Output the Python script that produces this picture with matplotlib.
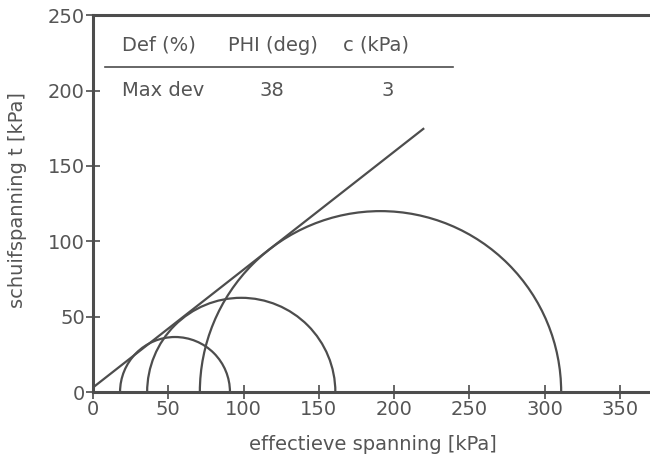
import matplotlib
matplotlib.use('Agg')
import matplotlib.pyplot as plt
from matplotlib.patches import Arc

# Mohr circles: minor / major effective principal stress [kPa]
sigma3 = [18, 36, 71]
sigma1 = [91, 161, 311]

# failure envelope (c = 3 kPa, phi = 38 deg)
env_x = [0, 220]
env_y = [3, 175]

table_header = ['Def (%)', 'PHI (deg)', 'c (kPa)']
table_row = ['Max dev', '38', '3']

x_ticks = [0, 50, 100, 150, 200, 250, 300, 350]
y_ticks = [0, 50, 100, 150, 200, 250]

col = '#4d4d4d'
txt = '#555555'
plt.rcParams['font.family'] = ['DejaVu Sans']

fig = plt.figure(figsize=(6.5, 4.58), dpi=100)
ax = fig.add_axes([0.143, 0.144, 0.857, 0.823])

ax.plot(env_x, env_y, color=col, lw=1.6, solid_capstyle='butt')
for s3, s1 in zip(sigma3, sigma1):
    c = (s1 + s3) / 2.0
    d = s1 - s3
    ax.add_patch(Arc((c, 0), d, d, theta1=0, theta2=180, color=col, lw=1.6))

ax.set_xlim(0, 370)
ax.set_ylim(0, 250)
ax.set_xticks(x_ticks)
ax.set_yticks(y_ticks)
ax.tick_params(direction='inout', length=9.5, width=1.2, color=col,
               labelcolor=txt, labelsize=14, pad=1)
ax.spines['right'].set_visible(False)
for s in ['left', 'bottom', 'top']:
    ax.spines[s].set_linewidth(2.2)
    ax.spines[s].set_color(col)

ax.set_xlabel('effectieve spanning [kPa]', fontsize=14, color=txt)
ax.set_ylabel('schuifspanning t [kPa]', fontsize=14, color=txt)
ax.xaxis.set_label_coords(0.503, -0.115)
ax.yaxis.set_label_coords(-0.118, 0.51)

# parameter table
ax.text(19.5, 230, table_header[0], fontsize=14, color=txt, va='center')
ax.text(89.5, 230, table_header[1], fontsize=14, color=txt, va='center')
ax.text(166, 230, table_header[2], fontsize=14, color=txt, va='center')
ax.plot([8, 239], [215.5, 215.5], color=col, lw=1.2)
ax.text(19.5, 200, table_row[0], fontsize=14, color=txt, va='center')
ax.text(119, 200, table_row[1], fontsize=14, color=txt, va='center', ha='center')
ax.text(196, 200, table_row[2], fontsize=14, color=txt, va='center', ha='center')

fig.savefig('out.png', dpi=100)
